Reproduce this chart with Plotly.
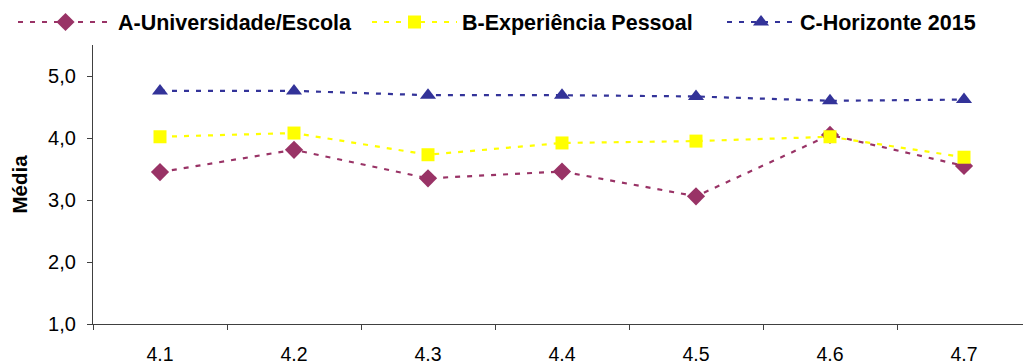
import plotly.graph_objects as go

categories = ["4.1", "4.2", "4.3", "4.4", "4.5", "4.6", "4.7"]
serie_a = [3.45, 3.81, 3.35, 3.46, 3.06, 4.05, 3.55]
serie_b = [4.02, 4.08, 3.73, 3.92, 3.95, 4.02, 3.69]
serie_c = [4.76, 4.76, 4.69, 4.69, 4.67, 4.60, 4.62]
names = ["A-Universidade/Escola", "B-Experiência Pessoal", "C-Horizonte 2015"]
y_ticks = [1, 2, 3, 4, 5]

colors = ["#993366", "#FFFF00", "#333399"]
symbols = ["diamond", "square", "triangle-up"]
sizes = [14, 13, 14]
legend_ids = ["legend", "legend2", "legend3"]

# the page body adds an 8px offset; figure is sized so the plot lands in place
W, H = 1023, 356

fig = go.Figure()
for vals, name, col, sym, sz, lg in zip([serie_a, serie_b, serie_c], names, colors,
                                         symbols, sizes, legend_ids):
    fig.add_trace(go.Scatter(
        x=categories, y=vals, name=name, mode="lines+markers",
        line=dict(color=col, width=2.2, dash="5px,7px"),
        marker=dict(symbol=sym, size=sz, color=col, line=dict(width=0)),
        legend=lg,
    ))

def leg(x_px, itemw):
    return dict(
        orientation="h", x=x_px / W, y=1 - 14 / H, xref="container", yref="container",
        xanchor="left", yanchor="middle", itemwidth=itemw,
        font=dict(size=21.5, family="Liberation Sans, Arial, sans-serif", weight="bold"),
        bgcolor="rgba(0,0,0,0)",
    )

fig.update_layout(
    width=W, height=H,
    margin=dict(l=85, r=0, t=37, b=40, autoexpand=False),
    paper_bgcolor="white", plot_bgcolor="white",
    separators=",.",
    font=dict(family="Liberation Sans, Arial, sans-serif", size=19, color="black"),
    showlegend=True,
    legend=leg(5, 95),
    legend2=leg(359, 85),
    legend3=leg(714, 68),
    xaxis=dict(
        type="category", range=[-0.5, 6.5],
        showline=True, linecolor="#404040", linewidth=1.2,
        ticks="outside", ticklen=5, tickcolor="#404040", tickson="boundaries",
        showgrid=False, zeroline=False, ticklabelstandoff=12,
        tickfont=dict(size=19.5),
    ),
    yaxis=dict(
        range=[1, 5.5], tickvals=y_ticks, tickformat=".1f",
        showline=True, linecolor="#404040", linewidth=1.2,
        ticks="outside", ticklen=5, tickcolor="#404040",
        showgrid=False, zeroline=False, ticklabelstandoff=7,
        tickfont=dict(size=20),
        title=dict(text="<b>Média</b>", font=dict(size=20.5), standoff=18),
    ),
)

fig.write_html("out.html")
